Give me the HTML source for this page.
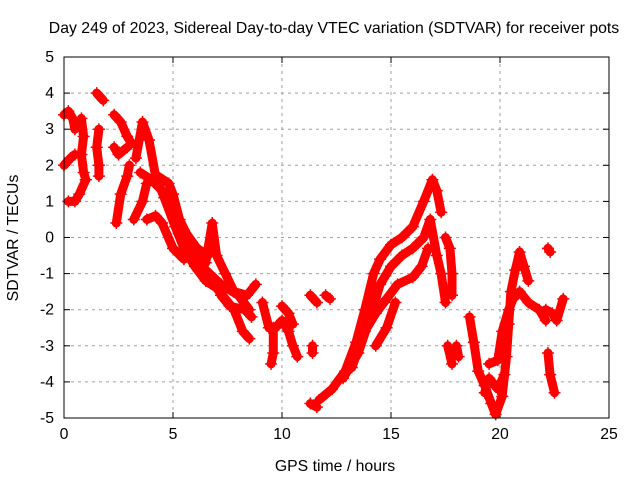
<!DOCTYPE html>
<html><head><meta charset="utf-8"><style>
body{margin:0;background:#fff}
svg text{font-family:"Liberation Sans",sans-serif;font-size:15.8px;fill:#000}
</style></head><body>
<svg id="chart" width="640" height="480" xmlns="http://www.w3.org/2000/svg">
<text x="334" y="33" text-anchor="middle">Day 249 of 2023, Sidereal Day-to-day VTEC variation (SDTVAR) for receiver pots</text>
<text x="335" y="471" text-anchor="middle">GPS time / hours</text>
<text transform="translate(18,238) rotate(-90)" text-anchor="middle">SDTVAR / TECUs</text>
<g id="grid"></g><g id="marks"></g>
<rect x="64" y="57" width="545" height="361" fill="none" stroke="#000"/>
</svg>
<script>
const xTicks=[0,5,10,15,20,25];
const yTicks=[5,4,3,2,1,0,-1,-2,-3,-4,-5];
const tracks=[
[[0,3.4],[0.2,3.5],[0.4,3.3],[0.5,3.0]],
[[0,2.0],[0.3,2.2],[0.5,2.3]],
[[0.8,3.3],[0.9,2.8],[0.8,2.3],[0.9,1.8],[1.0,1.6]],
[[0.2,1.0],[0.5,1.0],[0.7,1.2],[1.0,1.6]],
[[1.5,4.0],[1.8,3.8]],
[[1.6,3.0],[1.5,2.5],[1.6,2.0],[1.6,1.7]],
[[2.3,3.4],[2.6,3.2],[2.9,2.8],[3.1,2.6]],
[[2.3,2.5],[2.5,2.3],[2.9,2.5]],
[[2.4,0.4],[2.6,1.2],[2.9,1.7],[3.0,2.0]],
[[3.3,2.2],[3.6,3.2],[3.9,2.7],[4.2,1.7],[4.6,1.1],[5.1,0.3],[5.5,-0.3],[6.0,-0.8],[6.5,-1.2],[7.0,-1.4],[7.8,-2.0],[8.2,-2.6],[8.5,-2.8]],
[[3.2,0.5],[3.6,1.0],[3.8,1.5],[4.3,1.7],[4.8,1.5],[5.0,1.2],[5.3,0.5],[5.7,0.0],[6.0,-0.5],[6.5,-0.9],[7.2,-1.3],[8.0,-1.6],[8.5,-2.0]],
[[3.8,0.5],[4.2,0.6],[4.5,0.4],[5.0,-0.3],[5.5,-0.6],[6.0,-0.4],[6.5,-0.7],[6.8,0.4],[7.0,-0.5],[7.4,-1.0],[7.8,-1.5],[8.4,-1.6],[8.8,-1.3]],
[[3.5,1.8],[4.0,1.6],[4.5,1.3],[5.0,0.8],[5.5,0.2],[6.1,-0.3],[6.6,-0.5]],
[[7.2,-1.6],[7.6,-1.9],[8.3,-2.0],[8.6,-2.2]],
[[9.1,-1.8],[9.4,-2.5],[9.7,-2.5],[10.0,-2.3],[10.3,-2.6],[10.5,-3.0],[10.7,-3.3]],
[[9.6,-2.5],[9.6,-3.2],[9.5,-3.5]],
[[10.0,-1.9],[10.3,-2.1],[10.5,-2.4]],
[[11.3,-1.6],[11.6,-1.8]],
[[12.0,-1.6],[12.2,-1.7]],
[[11.4,-3.0],[11.4,-3.2]],
[[11.3,-4.6],[11.6,-4.7]],
[[11.7,-4.5],[12.3,-4.2],[12.9,-3.7],[13.4,-2.9],[13.8,-2.0],[14.2,-1.0],[14.5,-0.6],[15.0,-0.2],[15.5,0.0],[16.0,0.3],[16.5,1.0],[16.9,1.6],[17.1,1.3],[17.3,0.7]],
[[12.8,-3.9],[13.5,-3.2],[14.0,-2.3],[14.5,-1.3],[15.0,-0.8],[15.5,-0.5],[16.0,-0.3],[16.5,0.0],[16.8,0.5],[17.1,-0.5],[17.3,-1.0],[17.5,-1.8]],
[[13.2,-3.6],[13.8,-2.6],[14.3,-2.1],[14.8,-1.7],[15.3,-1.3],[16.0,-1.1],[16.4,-0.8],[16.7,-0.3]],
[[14.3,-3.0],[14.8,-2.5],[15.2,-1.8]],
[[17.5,0.0],[17.7,-0.3],[17.8,-1.0],[17.8,-1.6]],
[[17.6,-3.0],[17.8,-3.5]],
[[18.0,-3.0],[18.1,-3.3]],
[[18.6,-2.2],[18.8,-2.9],[19.0,-3.7],[19.3,-4.1]],
[[19.3,-4.1],[19.6,-4.6],[19.8,-4.9],[20.1,-4.4],[20.3,-3.3],[20.4,-2.4],[20.5,-1.5],[20.7,-0.9],[20.9,-0.4],[21.1,-0.8],[21.3,-1.2]],
[[19.5,-3.5],[19.9,-3.4],[20.1,-2.6],[20.4,-2.0],[20.6,-1.7],[20.9,-1.5],[21.3,-1.8],[21.8,-2.0],[22.1,-2.3]],
[[19.3,-4.3],[19.5,-3.9],[19.9,-4.2],[20.2,-3.8]],
[[22.1,-2.0],[22.4,-2.1],[22.6,-2.3],[22.9,-1.7]],
[[22.2,-3.2],[22.3,-3.8],[22.5,-4.3]],
[[22.2,-0.3],[22.3,-0.4]]
];
const X0=64,X1=609,Y0=418,Y1=57;
function sx(v){return X0+(v-0)/(25-0)*(X1-X0);}
function sy(v){return Y0-(v+5)/10*(Y0-Y1);}
const NS='http://www.w3.org/2000/svg';
const grid=document.getElementById('grid'),marks=document.getElementById('marks');
function mk(tag,attrs,parent){const e=document.createElementNS(NS,tag);for(const k in attrs)e.setAttribute(k,attrs[k]);parent.appendChild(e);return e;}
xTicks.forEach(t=>{const x=sx(t);
 if(t>0&&t<25){const l=mk('line',{x1:x,x2:x,y1:Y1,y2:Y0,stroke:'#a0a0a0','stroke-dasharray':'3,4'},grid);
 
 }
 mk('line',{x1:x,x2:x,y1:Y0,y2:Y0-6,stroke:'#000'},grid);
 mk('line',{x1:x,x2:x,y1:Y1,y2:Y1+6,stroke:'#000'},grid);
 const tx=mk('text',{x:x,y:Y0+21,'text-anchor':'middle'},grid);tx.textContent=t;
 
 });
yTicks.forEach(t=>{const y=sy(t);
 if(t>-5&&t<5){const l=mk('line',{x1:X0,x2:X1,y1:y,y2:y,stroke:'#a0a0a0','stroke-dasharray':'3,4'},grid);
 
 }
 mk('line',{x1:X0,x2:X0+6,y1:y,y2:y,stroke:'#000'},grid);
 mk('line',{x1:X1,x2:X1-6,y1:y,y2:y,stroke:'#000'},grid);
 const tx=mk('text',{x:X0-10,y:y+5,'text-anchor':'end'},grid);tx.textContent=t;
 
 });
tracks.forEach(tr=>{
 const pts=tr.map(p=>sx(p[0]).toFixed(1)+','+sy(p[1]).toFixed(1)).join(' ');
 const pl=mk('polyline',{points:pts,fill:'none',stroke:'#f00','stroke-width':9,'stroke-linejoin':'round','stroke-linecap':'round'},marks);
 
 
 tr.forEach(p=>{const x=sx(p[0]),y=sy(p[1]);
  const g=mk('path',{d:`M${x-6},${y}H${x+6}M${x},${y-6}V${y+6}`,stroke:'#f00','stroke-width':1.5},marks);
  
  });
});
</script>
</body></html>
